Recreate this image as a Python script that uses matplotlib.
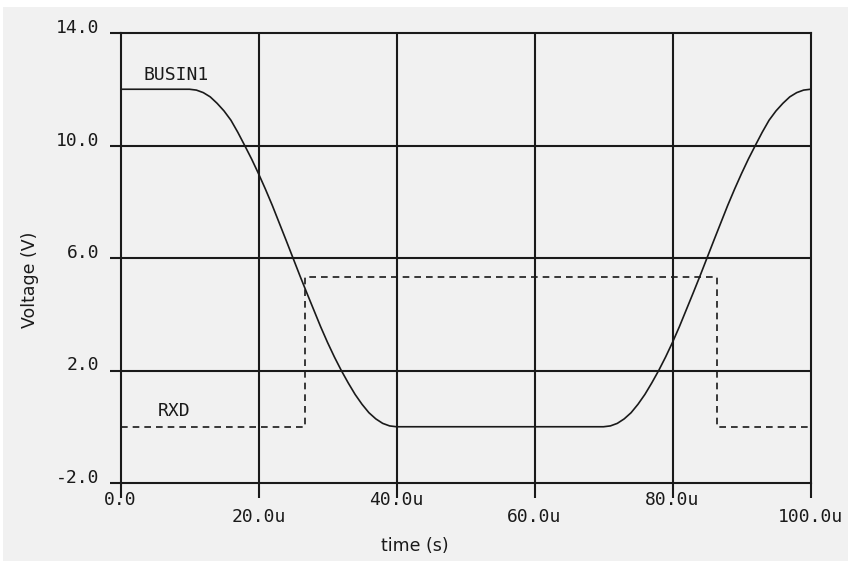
import matplotlib
matplotlib.use("Agg")
import matplotlib.pyplot as plt
from matplotlib.patches import Rectangle

# Simulation traces (time in microseconds, voltage in volts)
busin1_t = [0, 5, 10, 11, 12, 13, 14, 15, 16, 17, 18, 19, 20, 21, 22, 23, 24, 25, 26, 27,
            28, 29, 30, 31, 32, 33, 34, 35, 36, 37, 38, 39, 40,
            50, 60, 70, 71, 72, 73, 74, 75, 76, 77, 78, 79, 80, 81, 82, 83, 84, 85, 86,
            87, 88, 89, 90, 91, 92, 93, 94, 95, 96, 97, 98, 99, 100]
busin1_v = [12.0, 12.0, 12.0, 11.97, 11.88, 11.73, 11.5, 11.23, 10.9, 10.47, 10.0, 9.52,
            9.0, 8.45, 7.87, 7.25, 6.63, 6.0, 5.37, 4.76, 4.16, 3.56, 3.0, 2.48, 2.0,
            1.56, 1.15, 0.8, 0.5, 0.28, 0.12, 0.03, 0.0,
            0.0, 0.0, 0.0, 0.03, 0.12, 0.28, 0.5, 0.8, 1.15, 1.56, 2.0, 2.48, 3.0, 3.56,
            4.16, 4.76, 5.37, 6.0, 6.63, 7.25, 7.87, 8.45, 9.0, 9.52, 10.0, 10.47, 10.9,
            11.23, 11.5, 11.73, 11.88, 11.97, 12.0]

rxd_t = [0, 26.7, 26.7, 86.5, 86.5, 100]
rxd_v = [0.0, 0.0, 5.33, 5.33, 0.0, 0.0]

x_ticks = [0, 20, 40, 60, 80, 100]
x_tick_labels = ["0.0", "20.0u", "40.0u", "60.0u", "80.0u", "100.0u"]
y_ticks = [-2, 2, 6, 10, 14]
y_tick_labels = ["-2.0", "2.0", "6.0", "10.0", "14.0"]

W, H = 849, 562
BG = "#f1f1f1"
INK = "#1a1a1a"
MONO = "DejaVu Sans Mono"

fig = plt.figure(figsize=(W / 100, H / 100), dpi=100, facecolor="white")
fig.patches.append(Rectangle((3 / W, 1 / H), 845 / W, 554 / H,
                             transform=fig.transFigure, facecolor=BG,
                             edgecolor="none", zorder=-10))

ax = fig.add_axes([120.5 / W, 79 / H, 690 / W, 450 / H])
ax.set_facecolor(BG)
ax.set_xlim(0, 100)
ax.set_ylim(-2, 14)

for s in ax.spines.values():
    s.set_color(INK)
    s.set_linewidth(1.5)

# grid
for gx in x_ticks[1:-1]:
    ax.axvline(gx, color=INK, lw=1.5, zorder=1)
for gy in y_ticks[1:-1]:
    ax.axhline(gy, color=INK, lw=1.5, zorder=1)

ax.set_xticks(x_ticks)
ax.set_yticks(y_ticks)
ax.tick_params(axis="x", direction="out", length=10.8, width=1.5, color=INK,
               labelbottom=False)
ax.tick_params(axis="y", direction="out", length=8.0, width=1.5, color=INK,
               labelleft=False)

# staggered time labels
for i, (t, lab) in enumerate(zip(x_ticks, x_tick_labels)):
    dy = -8 if i % 2 == 0 else -25
    ax.annotate(lab, xy=(t, 0), xycoords=("data", "axes fraction"),
                xytext=(0, dy), textcoords="offset pixels",
                ha="center", va="top", fontsize=13, family=MONO, color=INK)

for v, lab in zip(y_ticks, y_tick_labels):
    ax.annotate(lab, xy=(0, v), xycoords=("axes fraction", "data"),
                xytext=(-21, 5), textcoords="offset pixels",
                ha="right", va="center", fontsize=13, family=MONO, color=INK)

ax.plot(busin1_t, busin1_v, color=INK, lw=1.2, zorder=3)
ax.plot(rxd_t, rxd_v, color=INK, lw=1.2, dashes=(4, 3), zorder=3)

ax.text(3.3, 12.5, "BUSIN1", ha="left", va="center", fontsize=13, family=MONO, color=INK)
ax.text(5.4, 0.56, "RXD", ha="left", va="center", fontsize=13, family=MONO, color=INK)

fig.text(415 / W, 1 - 546 / H, "time (s)", ha="center", va="center",
         fontsize=12.5, family="DejaVu Sans", color=INK)
fig.text(30 / W, 1 - 280 / H, "Voltage (V)", ha="center", va="center",
         rotation=90, fontsize=12.5, family="DejaVu Sans", color=INK)

fig.savefig("out.png", dpi=100, facecolor=fig.get_facecolor())
